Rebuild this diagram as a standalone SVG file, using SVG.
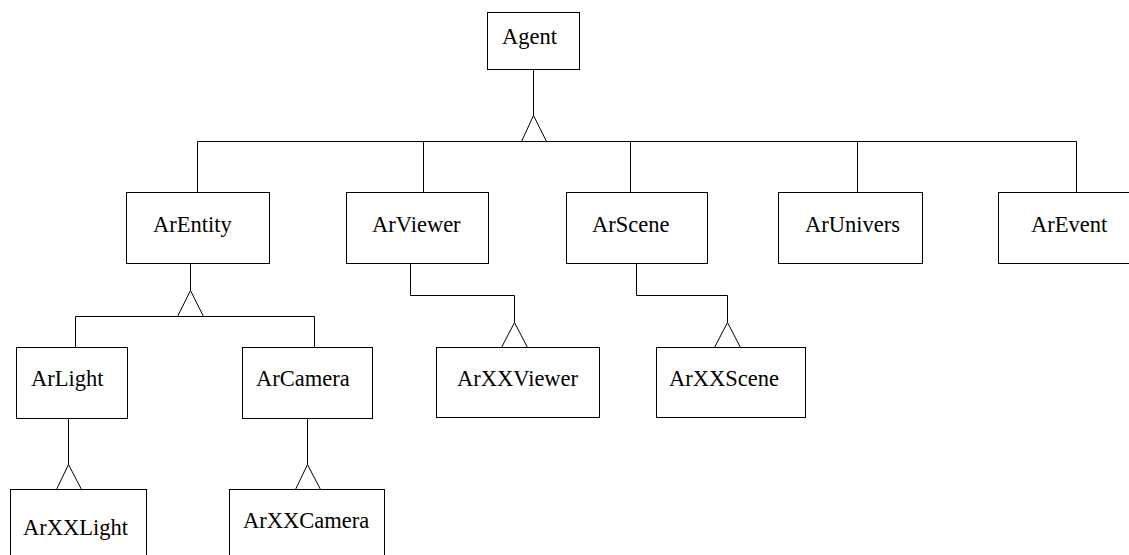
<svg xmlns="http://www.w3.org/2000/svg" width="1129" height="555" viewBox="0 0 1129 555">
<style>
.box{fill:#fff;stroke:#000;stroke-width:1}
.lbl{font-family:"Liberation Serif","Times New Roman",serif;font-size:22.5px;fill:#000}
.ln{fill:none;stroke:#000;stroke-width:1}
.tri{fill:#fff;stroke:#000;stroke-width:1}
</style>
<rect width="1129" height="555" fill="#fff"/>
<g id="connectors">
<path class="ln" d="M533.5 69.5V115.5"/>
<path class="ln" d="M197.5 192.5V141.5H1076.5V192.5M423.5 141.5V192.5M630.5 141.5V192.5M857.5 141.5V192.5"/>
<polygon class="tri" points="533.5,115.5 521.5,141.5 546.5,141.5"/>
<path class="ln" d="M190.5 263.5V290.5"/>
<path class="ln" d="M75.5 347.5V316.5H314.5V347.5"/>
<polygon class="tri" points="190.5,290.5 177.5,316.5 203.5,316.5"/>
<path class="ln" d="M410.5 263.5V295.5H514.5V322.5"/>
<path class="ln" d="M501.5 347.5L514.5 322.5L527.5 347.5"/>
<path class="ln" d="M636.5 263.5V295.5H727.5V322.5"/>
<path class="ln" d="M714.5 347.5L727.5 322.5L740.5 347.5"/>
<path class="ln" d="M68.5 418.5V464.5"/>
<path class="ln" d="M56.5 489.5L68.5 464.5L81.5 489.5"/>
<path class="ln" d="M307.5 418.5V464.5"/>
<path class="ln" d="M295.5 489.5L307.5 464.5L320.5 489.5"/>
</g>
<g id="Agent"><rect class="box" x="487.5" y="12.5" width="92" height="57"/><text class="lbl" x="502" y="44">Agent</text></g>
<g id="ArEntity"><rect class="box" x="126.5" y="192.5" width="143" height="71"/><text class="lbl" x="153" y="232">ArEntity</text></g>
<g id="ArViewer"><rect class="box" x="346.5" y="192.5" width="142" height="71"/><text class="lbl" x="372" y="232">ArViewer</text></g>
<g id="ArScene"><rect class="box" x="566.5" y="192.5" width="141" height="71"/><text class="lbl" x="592" y="232">ArScene</text></g>
<g id="ArUnivers"><rect class="box" x="778.5" y="192.5" width="144" height="71"/><text class="lbl" x="805" y="232">ArUnivers</text></g>
<g id="ArEvent"><rect class="box" x="998.5" y="192.5" width="145" height="71"/><text class="lbl" x="1031" y="232">ArEvent</text></g>
<g id="ArLight"><rect class="box" x="16.5" y="347.5" width="111" height="71"/><text class="lbl" x="31" y="386">ArLight</text></g>
<g id="ArCamera"><rect class="box" x="242.5" y="347.5" width="130" height="71"/><text class="lbl" x="256" y="386">ArCamera</text></g>
<g id="ArXXViewer"><rect class="box" x="436.5" y="347.5" width="163" height="70"/><text class="lbl" x="457" y="386">ArXXViewer</text></g>
<g id="ArXXScene"><rect class="box" x="656.5" y="347.5" width="149" height="70"/><text class="lbl" x="669" y="386">ArXXScene</text></g>
<g id="ArXXLight"><rect class="box" x="10.5" y="489.5" width="136" height="80"/><text class="lbl" x="23" y="535">ArXXLight</text></g>
<g id="ArXXCamera"><rect class="box" x="229.5" y="489.5" width="155" height="80"/><text class="lbl" x="243" y="528">ArXXCamera</text></g>
</svg>
